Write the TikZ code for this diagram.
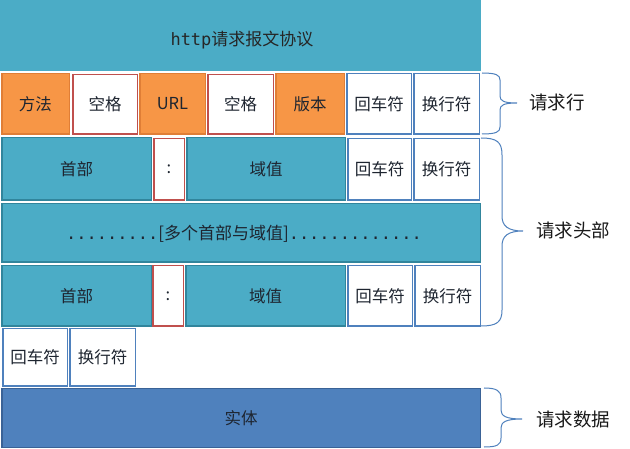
\documentclass[tikz,border=0pt]{standalone}
\usepackage{fontspec}
\setmainfont{Noto Sans CJK SC}
\newfontfamily\monof{DejaVu Sans Mono}
\definecolor{teal1}{HTML}{4BACC6}
\definecolor{tealdark}{HTML}{31859C}
\definecolor{orange1}{HTML}{F79646}
\definecolor{orangedark}{HTML}{E07E36}
\definecolor{red1}{HTML}{C0504D}
\definecolor{blue1}{HTML}{4F81BD}
\definecolor{bluedark}{HTML}{3A6296}
\definecolor{txt}{HTML}{1E2530}
\newcommand\cellbox[7]{\node[#1, minimum width={(#5-#3-1.5)*1pt}, minimum height={(#6-#4-1.5)*1pt}] (#2) at ({(#3+#5)/2},{(#4+#6)/2}) {#7};}
\begin{document}
\begin{tikzpicture}[x=1pt,y=-1pt,
  base/.style={inner sep=0pt, outer sep=0pt, line width=1.5pt, text=txt, font=\fontsize{16.5}{18}\selectfont},
  tealc/.style={base, fill=teal1, draw=tealdark},
  orangec/.style={base, fill=orange1, draw=orangedark},
  redw/.style={base, fill=white, draw=red1},
  bluew/.style={base, fill=white, draw=blue1},
  bodyc/.style={base, fill=blue1, draw=bluedark},
  titlec/.style={base, fill=teal1, draw=none},
  bracec/.style={draw=blue1, line width=1pt},
  lab/.style={inner sep=0pt, text=black!90, font=\fontsize{18.5}{20}\selectfont}]
\useasboundingbox[fill=white] (0,0) rectangle (630,449);
% title
\node[titlec, minimum width=481pt, minimum height=71pt] (title) at (240.5,35.5) {};
\node[base, text=black!85, font=\fontsize{17}{19}\selectfont] (titletext) at (242,40) {{\monof http}请求报文协议};
% request line
\cellbox{orangec}{m}{1}{73}{70}{135}{方法}
\cellbox{redw}{sp1}{72}{74}{138}{135}{空格}
\cellbox{orangec}{url}{139}{73}{206}{135}{URL}
\cellbox{redw}{sp2}{207}{74}{274}{135}{空格}
\cellbox{orangec}{ver}{275}{73}{345}{135}{版本}
\cellbox{bluew}{cr1}{346}{73}{412}{135}{回车符}
\cellbox{bluew}{lf1}{413}{73}{480}{135}{换行符}
% header 1
\cellbox{tealc}{h1}{1}{137}{152}{201}{首部}
\cellbox{redw}{c1}{153}{138}{185}{201}{:}
\cellbox{tealc}{v1}{186}{137}{346}{201}{域值}
\cellbox{bluew}{cr2}{347}{138}{412}{201}{回车符}
\cellbox{bluew}{lf2}{413}{138}{480}{201}{换行符}
% more headers
\cellbox{tealc}{more}{1}{203}{481}{263}{}
\node[base, font=\fontsize{17}{19}\selectfont] (moretext) at (244,234) {{\monof .........}[多个首部与域值]{\monof .............}};
% header 2
\cellbox{tealc}{h2}{1}{265}{152}{327}{首部}
\cellbox{redw}{c2}{152}{265}{184}{327}{:}
\cellbox{tealc}{v2}{185}{265}{346}{327}{域值}
\cellbox{bluew}{cr3}{347}{265}{413}{327}{回车符}
\cellbox{bluew}{lf3}{414}{265}{481}{327}{换行符}
% empty line
\cellbox{bluew}{cr4}{2}{328}{68}{387}{回车符}
\cellbox{bluew}{lf4}{69}{328}{136}{387}{换行符}
% body
\cellbox{bodyc}{body}{1}{388}{481}{448}{实体}
% braces
\coordinate (b1t) at (482,73);
\coordinate (b1b) at (482,134);
\draw[bracec] (b1t) .. controls (496,73) and (500,75) .. (500,80) -- (500,96)
  .. controls (500,101) and (504,103) .. (517,103) coordinate (b1tip)
  .. controls (504,103) and (500,105) .. (500,110) -- (500,127)
  .. controls (500,132) and (496,134) .. (b1b);
\coordinate (b2t) at (481,138);
\coordinate (b2b) at (481,326);
\draw[bracec] (b2t) .. controls (497,138) and (502,142) .. (502,155) -- (502,216)
  .. controls (502,226) and (508,231) .. (523,231) coordinate (b2tip)
  .. controls (508,231) and (502,236) .. (502,246) -- (502,310)
  .. controls (502,322) and (497,326) .. (b2b);
\coordinate (b3t) at (484,388);
\coordinate (b3b) at (484,447);
\draw[bracec] (b3t) .. controls (497,388) and (501,391) .. (501,398) -- (501,410)
  .. controls (501,416) and (506,419) .. (522,419) coordinate (b3tip)
  .. controls (506,419) and (501,422) .. (501,428) -- (501,438)
  .. controls (501,445) and (497,447) .. (b3b);
\node[lab] (l1) at (557,102) {请求行};
\node[lab] (l2) at (573,230) {请求头部};
\node[lab] (l3) at (573,419) {请求数据};
\end{tikzpicture}
\end{document}
